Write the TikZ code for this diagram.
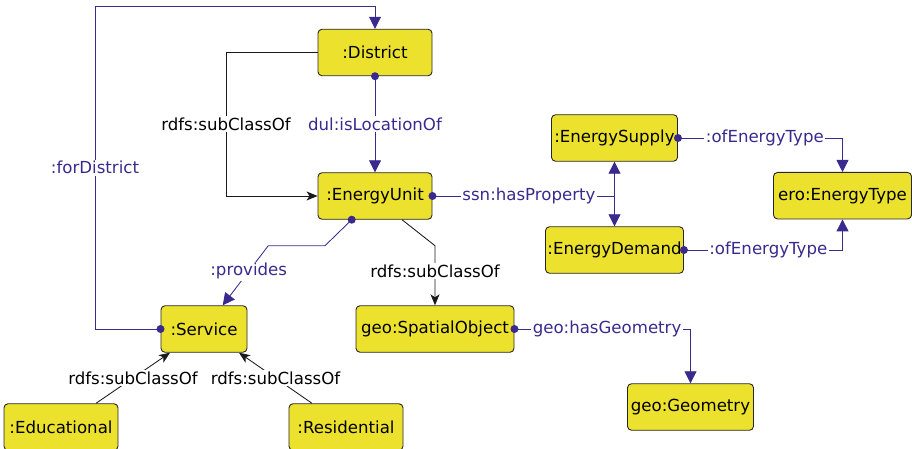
\documentclass[tikz,border=0pt]{standalone}
\usepackage{fontspec}
\setmainfont{DejaVu Sans}
\usetikzlibrary{arrows.meta}

\begin{document}
\begin{tikzpicture}[x=1pt,y=-1pt,line width=0.85pt,font=\fontsize{16.6}{19}\selectfont,
  cls/.style={draw=black!85,fill=ontoyellow,rounded corners=4pt,line width=0.9pt,
    minimum height=46.5pt,inner xsep=0pt},
  rel/.style={draw=ontopurple,-{Triangle[length=12pt,width=12pt]}},
  sub/.style={draw=black!90,-{Stealth[length=11pt,width=9pt,inset=3pt]}},
  rlbl/.style={fill=white,inner sep=1.5pt,text=ontopurple},
  slbl/.style={fill=white,inner sep=1.5pt,text=black},
]
\definecolor{ontoyellow}{HTML}{ECE22E}
\definecolor{ontopurple}{HTML}{3A2A8E}
\useasboundingbox (0,0) rectangle (912,449);

% classes
\node[cls,minimum width=114pt] (District) at (375,52.5) {:District};
\node[cls,minimum width=114pt] (EnergyUnit) at (375,196) {:EnergyUnit};
\node[cls,minimum width=126pt] (EnergySupply) at (614.5,138) {:EnergySupply};
\node[cls,minimum width=138pt] (EnergyDemand) at (614.5,250) {:EnergyDemand};
\node[cls,minimum width=138pt] (EnergyType) at (842.5,195.7) {ero:EnergyType};
\node[cls,minimum width=86pt] (Service) at (204,329) {:Service};
\node[cls,minimum width=158pt] (SpatialObject) at (435,329) {geo:SpatialObject};
\node[cls,minimum width=114pt] (Educational) at (61,427) {:Educational};
\node[cls,minimum width=114pt] (Residential) at (346,427) {:Residential};
\node[cls,minimum width=126pt] (Geometry) at (690.5,407) {geo:Geometry};

% subclass links
\draw[sub] (District.west) -| node[slbl,pos=0.75] (subDU) {rdfs:subClassOf} (226,196) -- (EnergyUnit.west);
\draw[sub] ([xshift=27pt]EnergyUnit.south) -- (435,245.7)
  -- node[slbl,pos=0.43] (subUS) {rdfs:subClassOf} (SpatialObject.north);
\draw[sub] ([xshift=35pt]Educational.north) -- node[slbl] (subES) {rdfs:subClassOf} ([xshift=-34pt]Service.south);
\draw[sub] ([xshift=-34pt]Residential.north) -- node[slbl] (subRS) {rdfs:subClassOf} ([xshift=35pt]Service.south);

% object properties
\coordinate (propFork) at (EnergySupply.south |- EnergyUnit.east);
\draw[rel] (Service.west) -| node[rlbl,pos=0.75] (forD) {:forDistrict} (95,6.5) -| (District.north);
\draw[rel] (District.south) -- node[rlbl] (isLoc) {dul:isLocationOf} (EnergyUnit.north);
\draw[rel] (EnergyUnit.east) -- node[rlbl,pos=0.53] (hasProp) {ssn:hasProperty} (propFork) -- (EnergySupply.south);
\draw[rel] (propFork) -- (EnergyDemand.north);
\draw[rel] (EnergySupply.east) -| node[rlbl,pos=0.264] (typeS) {:ofEnergyType} (EnergyType.north);
\draw[rel] (EnergyDemand.east) -| node[rlbl,pos=0.266] (typeD) {:ofEnergyType} (EnergyType.south);
\draw[rel] ([xshift=-23.3pt]EnergyUnit.south) -- (325,245.7) -- (268.3,245.7)
  -- node[rlbl,pos=0.43] (prov) {:provides} ([xshift=18.7pt]Service.north);
\draw[rel] (SpatialObject.east) -| node[rlbl,pos=0.263] (hasGeo) {geo:hasGeometry} (Geometry.north);

% domain dots
\foreach \p in {Service.west,District.south,EnergyUnit.east,EnergySupply.east,EnergyDemand.east,SpatialObject.east}{
  \fill[ontopurple] (\p) circle[radius=4pt];
}
\fill[ontopurple] ([xshift=-23.3pt]EnergyUnit.south) circle[radius=4pt];

\end{tikzpicture}
\end{document}
